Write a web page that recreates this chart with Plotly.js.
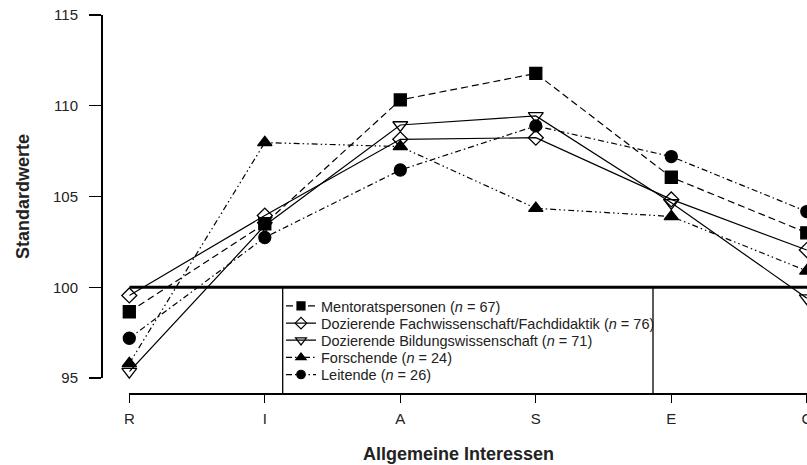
<!DOCTYPE html>
<html>
<head>
<meta charset="utf-8">
<script src="https://cdn.plot.ly/plotly-3.0.1.min.js"></script>
<style>
html,body{margin:0;padding:0;overflow:hidden;background:#fff;}
#chart{width:860px;height:465px;}
</style>
</head>
<body>
<div id="chart"></div>
<script>
const categories = ["R", "I", "A", "S", "E", "C"];
const mentorat = [98.65, 103.5, 110.32, 111.78, 106.06, 103.0];
const fachwiss = [99.55, 103.95, 108.15, 108.24, 104.84, 102.05];
const bildwiss = [95.35, 103.4, 108.94, 109.44, 104.65, 99.4];
const forschende = [95.8, 107.97, 107.75, 104.35, 103.9, 100.9];
const leitende = [97.19, 102.74, 106.46, 108.89, 107.2, 104.17];
const seriesNames = [
  "Mentoratspersonen (<i>n</i> = 67)",
  "Dozierende Fachwissenschaft/Fachdidaktik (<i>n</i> = 76)",
  "Dozierende Bildungswissenschaft (<i>n</i> = 71)",
  "Forschende (<i>n</i> = 24)",
  "Leitende (<i>n</i> = 26)"
];
const yTicks = [95, 100, 105, 110, 115];

const FONT = "Liberation Sans, Arial, Helvetica, sans-serif";
const W = 860, H = 465;
const ml = 101, mr = 26, mt = 15, mb = 72;
const pw = W - ml - mr, ph = H - mt - mb;
const xStart = (129.3 - ml) / pw;
const yStart = (393 - 378) / ph;
const xEnd = (W - mr - 129.3) / 135.5;

const styles = [
  {symbol: "square", size: 12, lsize: 8, dash: "7px,4px"},
  {symbol: "diamond-open", size: 11.5, lsize: 9, dash: "solid"},
  {symbol: "triangle-down-open", size: 13, lsize: 9.5, dash: "solid"},
  {symbol: "triangle-up", size: 12.5, lsize: 9, dash: "6px,3px,1.5px,3px,1.5px,3px"},
  {symbol: "circle", size: 12, lsize: 8.5, dash: "6px,3px,1.5px,3px"}
];
const legendIds = ["legend", "legend2", "legend3", "legend4", "legend5"];
const seriesValues = [mentorat, fachwiss, bildwiss, forschende, leitende];

const traces = [];
seriesValues.forEach(function (vals, i) {
  const s = styles[i];
  traces.push({
    x: categories, y: vals, name: seriesNames[i], type: "scatter", mode: "lines+markers",
    line: {color: "#000", width: 1.2, dash: s.dash},
    marker: {symbol: s.symbol, size: s.size, color: "#000", line: {color: "#000", width: 1.3}},
    cliponaxis: false, showlegend: false
  });
});
seriesValues.forEach(function (vals, i) {
  const s = styles[i];
  traces.push({
    x: [null], y: [null], name: seriesNames[i], type: "scatter", mode: "lines+markers",
    line: {color: "#000", width: 1.2, dash: s.dash},
    marker: {symbol: s.symbol, size: s.lsize, color: "#000", line: {color: "#000", width: 1.2}},
    showlegend: true, legend: legendIds[i], hoverinfo: "skip"
  });
});

const rowY = [306, 323.2, 340.3, 357.5, 374.6];
const legX = (281 - ml) / pw;
function leg(i) {
  return {
    x: legX, xanchor: "left", y: (393 - rowY[i]) / ph, yanchor: "middle",
    bgcolor: "rgba(0,0,0,0)", borderwidth: 0, itemwidth: 30,
    font: {family: FONT, size: 14.5, color: "#222"}
  };
}

const layout = {
  width: W, height: H, showlegend: true,
  margin: {l: ml, r: mr, t: mt, b: mb, pad: 0},
  paper_bgcolor: "#fff", plot_bgcolor: "#fff",
  font: {family: FONT, color: "#222"},
  xaxis: {
    type: "category", anchor: "free", position: 0,
    domain: [xStart, 1], range: [0, xEnd],
    showgrid: false, zeroline: false, showline: true, linecolor: "#000", linewidth: 1.5,
    ticks: "outside", ticklen: 8, tickwidth: 1.3, tickcolor: "#000",
    ticklabelstandoff: 3,
    tickfont: {family: FONT, size: 15, color: "#222"}
  },
  yaxis: {
    anchor: "free", position: 0,
    domain: [yStart, 1], range: [95, 115],
    tickvals: yTicks, ticktext: yTicks.map(String),
    showgrid: false, zeroline: false, showline: true, linecolor: "#000", linewidth: 1.5,
    ticks: "outside", ticklen: 12, tickwidth: 1.3, tickcolor: "#000",
    ticklabelstandoff: 8,
    tickfont: {family: FONT, size: 15, color: "#222"},
    title: {text: "<b>Standardwerte</b>", font: {family: FONT, size: 18, color: "#222"}, standoff: 17}
  },
  legend: leg(0), legend2: leg(1), legend3: leg(2), legend4: leg(3), legend5: leg(4),
  shapes: [
    {type: "line", xref: "x", yref: "y", x0: 0, x1: xEnd, y0: 100, y1: 100, line: {color: "#000", width: 3}, layer: "below"},
    {type: "line", xref: "paper", yref: "paper", x0: (282.7 - ml) / pw, x1: (282.7 - ml) / pw, y0: 0, y1: (393 - 287.25) / ph, line: {color: "#000", width: 1.3}},
    {type: "line", xref: "paper", yref: "paper", x0: (653 - ml) / pw, x1: (653 - ml) / pw, y0: 0, y1: (393 - 287.25) / ph, line: {color: "#000", width: 1.3}}
  ],
  annotations: [
    {text: "<b>Allgemeine Interessen</b>", xref: "paper", yref: "paper", x: (458 - ml) / pw, y: (393 - 453.5) / ph,
     xanchor: "center", yanchor: "middle", showarrow: false, font: {family: FONT, size: 18, color: "#222"}}
  ]
};

Plotly.newPlot("chart", traces, layout, {displayModeBar: false, staticPlot: true});
</script>
</body>
</html>
